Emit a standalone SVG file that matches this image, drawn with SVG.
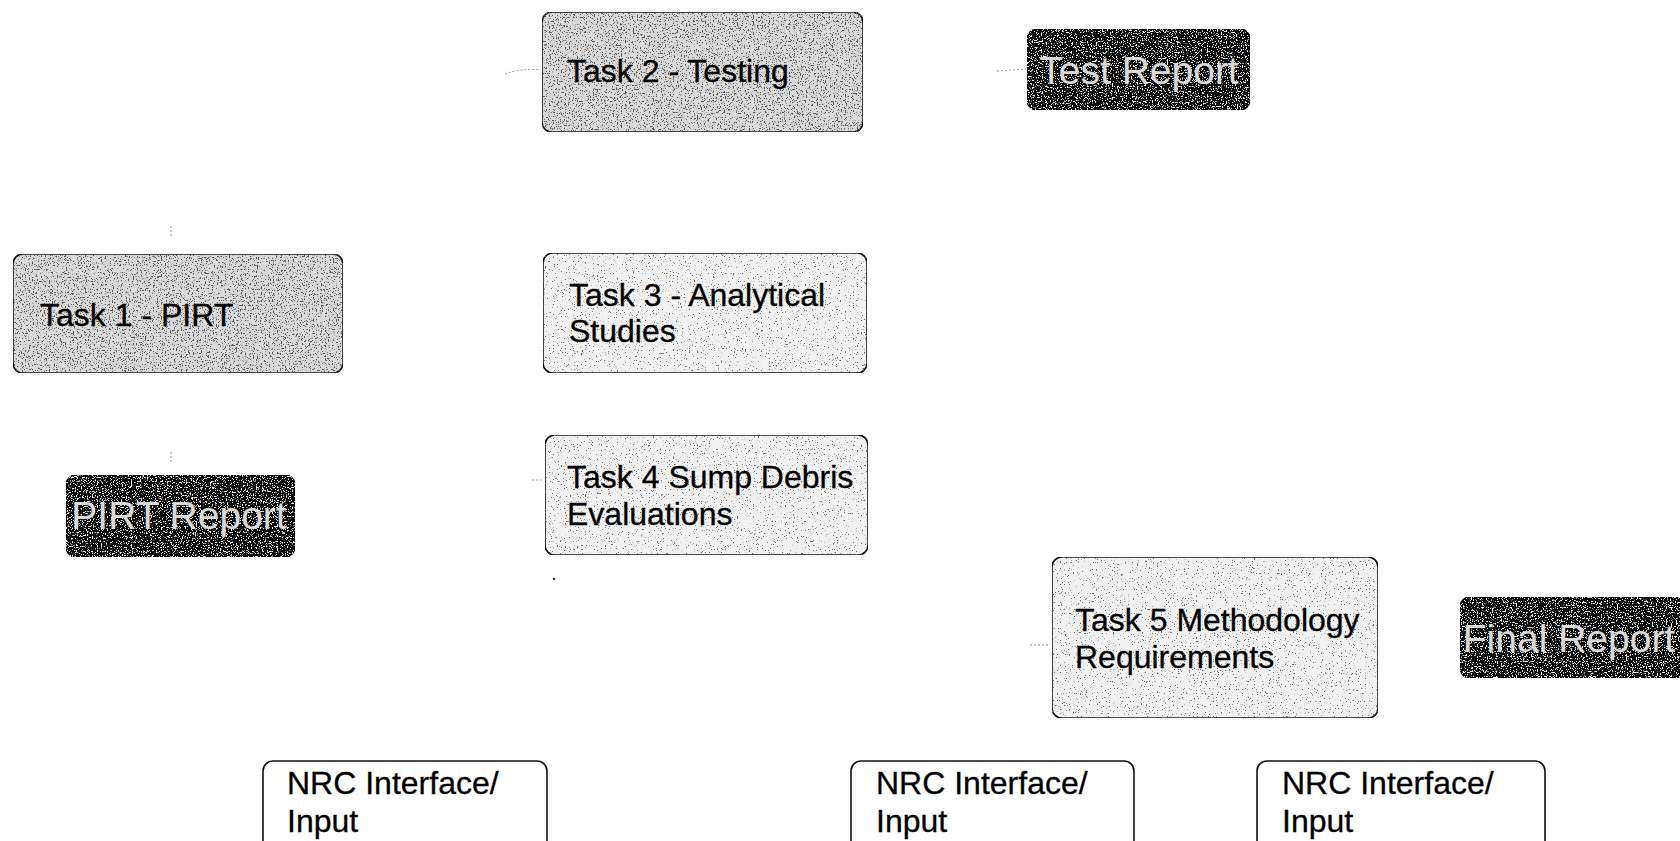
<svg xmlns="http://www.w3.org/2000/svg" width="1680" height="841" viewBox="0 0 1680 841">
<defs>
<filter id="grainDense" x="0" y="0" width="100%" height="100%">
<feTurbulence type="fractalNoise" baseFrequency="0.75" numOctaves="2" seed="4" result="n"/>
<feColorMatrix in="n" type="matrix" values="0 0 0 0 0.1  0 0 0 0 0.1  0 0 0 0 0.1  10 0 0 0 -5.6" result="d"/>
<feComposite in="d" in2="SourceAlpha" operator="in" result="d2"/>
<feMerge><feMergeNode in="SourceGraphic"/><feMergeNode in="d2"/></feMerge>
</filter>
<filter id="grainLight" x="0" y="0" width="100%" height="100%">
<feTurbulence type="fractalNoise" baseFrequency="0.75" numOctaves="2" seed="7" result="n"/>
<feColorMatrix in="n" type="matrix" values="0 0 0 0 0.15  0 0 0 0 0.15  0 0 0 0 0.15  12 0 0 0 -7.7" result="d"/>
<feComposite in="d" in2="SourceAlpha" operator="in" result="d2"/>
<feMerge><feMergeNode in="SourceGraphic"/><feMergeNode in="d2"/></feMerge>
</filter>
<filter id="grainWhite" x="0" y="0" width="100%" height="100%">
<feTurbulence type="fractalNoise" baseFrequency="0.8" numOctaves="2" seed="11" result="n"/>
<feColorMatrix in="n" type="matrix" values="0 0 0 0 0.95  0 0 0 0 0.95  0 0 0 0 0.95  10 0 0 0 -5.8" result="d"/>
<feComposite in="d" in2="SourceAlpha" operator="in" result="d2"/>
<feMerge><feMergeNode in="SourceGraphic"/><feMergeNode in="d2"/></feMerge>
</filter>
</defs>
<style>
.box{stroke:#111;stroke-width:1.6}
.dark{fill:#dadada;filter:url(#grainDense)}
.light{fill:#f1f1f1;filter:url(#grainLight)}
.white{fill:#ffffff}
.rep{fill:#0c0c0c;stroke:#000;stroke-width:1.5;filter:url(#grainWhite)}
.t{font-family:"Liberation Sans",Arial,sans-serif;font-size:32px;fill:#000;stroke:#000;stroke-width:0.3}
.rt{font-family:"Liberation Sans",Arial,sans-serif;font-size:39px;fill:#d8d8d8;text-anchor:middle}
.c{stroke:#999;stroke-width:1;fill:none;stroke-dasharray:2 2}
</style>
<rect width="1680" height="841" fill="#fff"/>
<g id="connectors">
<path class="c" d="M505 74 Q520 68 541 70"/>
<path class="c" d="M997 71 L1026 69"/>
<path class="c" d="M532 480 L543 480"/>
<path class="c" d="M1030 645 L1050 645"/>
<path class="c" d="M171 226 L171 236"/>
<path class="c" d="M171 452 L171 462"/>
<circle cx="554" cy="579" r="1.2" fill="#333"/>
</g>
<g id="task2">
<rect class="box dark" x="542" y="12" width="321" height="120" rx="10"/>
<text class="t" x="567" y="82">Task 2 - Testing</text>
</g>
<g id="test-report">
<rect class="rep" x="1027" y="29" width="223" height="81" rx="10"/>
<text class="rt" x="1139" y="84">Test Report</text>
</g>
<g id="task1">
<rect class="box dark" x="13" y="254" width="330" height="119" rx="10"/>
<text class="t" x="40" y="326">Task 1 - PIRT</text>
</g>
<g id="task3">
<rect class="box light" x="543" y="253" width="324" height="120" rx="10"/>
<text class="t" x="569" y="306">Task 3 - Analytical</text>
<text class="t" x="569" y="342">Studies</text>
</g>
<g id="pirt-report">
<rect class="rep" x="66" y="475" width="229" height="82" rx="10"/>
<text class="rt" x="179" y="529">PIRT Report</text>
</g>
<g id="task4">
<rect class="box light" x="545" y="435" width="323" height="120" rx="10"/>
<text class="t" x="567" y="488">Task 4 Sump Debris</text>
<text class="t" x="567" y="525">Evaluations</text>
</g>
<g id="task5">
<rect class="box light" x="1052" y="557" width="326" height="161" rx="10"/>
<text class="t" x="1075" y="631">Task 5 Methodology</text>
<text class="t" x="1075" y="668">Requirements</text>
</g>
<g id="final-report">
<rect class="rep" x="1460" y="597" width="235" height="81" rx="10"/>
<text class="rt" x="1569" y="652">Final Report</text>
</g>
<g id="nrc1">
<rect class="box white" x="263" y="761" width="284" height="100" rx="10"/>
<text class="t" x="287" y="794">NRC Interface/</text>
<text class="t" x="287" y="832">Input</text>
</g>
<g id="nrc2">
<rect class="box white" x="851" y="761" width="283" height="100" rx="10"/>
<text class="t" x="876" y="794">NRC Interface/</text>
<text class="t" x="876" y="832">Input</text>
</g>
<g id="nrc3">
<rect class="box white" x="1257" y="761" width="288" height="100" rx="10"/>
<text class="t" x="1282" y="794">NRC Interface/</text>
<text class="t" x="1282" y="832">Input</text>
</g>
</svg>
